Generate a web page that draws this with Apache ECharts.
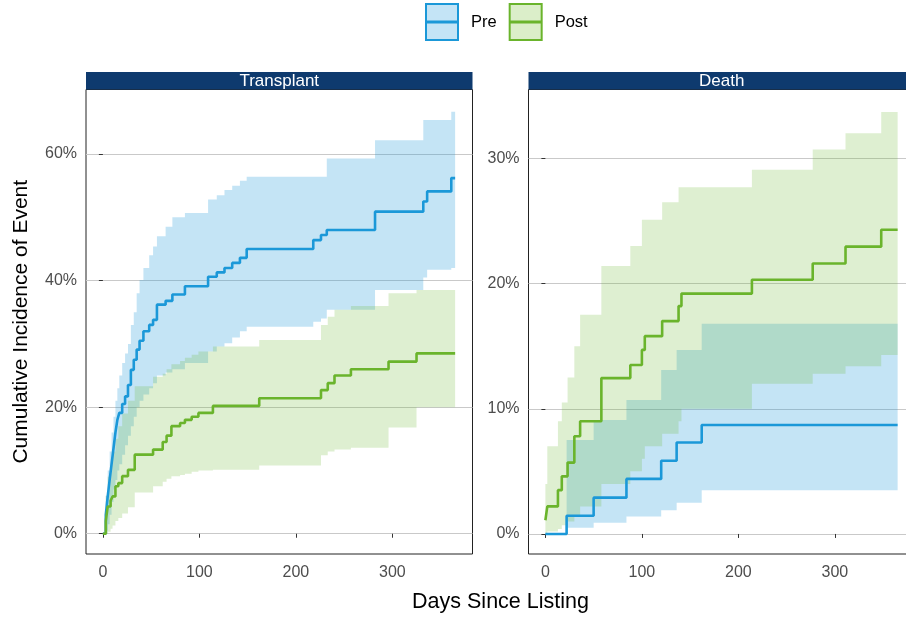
<!DOCTYPE html>
<html>
<head>
<meta charset="utf-8">
<title>Cumulative incidence of transplant and death</title>
<script src="https://cdn.jsdelivr.net/npm/echarts@6/dist/echarts.min.js"></script>
<style>
  html, body { margin: 0; padding: 0; background: #ffffff; }
  #chart { width: 906px; height: 617px; }
</style>
</head>
<body>
<div id="chart"></div>
<script>
// ---- data: step estimates with confidence bands (values in %) ----
const followUpEnd = 365;
const dayTicks = [0, 100, 200, 300];
const transplantTicks = [0, 20, 40, 60];
const deathTicks = [0, 10, 20, 30];
const panelNames = ['Transplant', 'Death'];
const groupNames = ['Pre', 'Post'];

// Transplant, Pre
const preTxDays = [0, 3, 5, 7, 9, 11, 13, 15, 17, 20, 23, 26, 29, 32, 35, 38, 42, 48, 52, 56, 65, 72, 85, 109, 118, 126, 134, 142, 149, 218, 226, 232, 282, 332, 336, 361];
const preTxEst  = [0, 3, 5.9, 8.5, 11, 13.5, 16, 18, 19.1, 20.5, 21.7, 23.5, 25.9, 27.5, 29.1, 30.5, 32, 33, 33.8, 36.2, 36.8, 37.8, 39.1, 40.6, 41.3, 42, 42.8, 43.6, 45, 46.4, 47.2, 48, 50.9, 52.5, 54.1, 56.2];
const preTxLo   = [0, 0.5, 1.5, 3, 5, 7, 8.5, 10, 11, 12.5, 14, 15.5, 17, 18.5, 20, 21, 22, 23, 23.8, 25, 25.5, 26, 27, 28.8, 29.6, 30.1, 31, 32, 32.7, 33.5, 34, 35.4, 38.5, 40.5, 41.7, 42];
const preTxHi   = [0, 6, 10, 13, 16, 18.5, 21, 23, 25, 27, 28.5, 30, 33, 35, 38, 40.1, 42, 44, 45.4, 47, 48.5, 50, 50.7, 52.8, 53.5, 54.3, 55, 55.8, 56.4, 56.4, 56.4, 59.3, 62.2, 65.4, 65.4, 66.7];

// Transplant, Post
const postTxDays = [0, 3, 5, 8, 10, 13, 16, 20, 26, 33, 52, 62, 66, 71, 80, 85, 92, 99, 114, 162, 226, 233, 240, 257, 296, 325];
const postTxEst  = [0, 2, 4.3, 5.2, 5.9, 7.5, 8, 9.1, 10.1, 12.5, 13.3, 14.5, 15.5, 17, 17.5, 18, 18.5, 19.1, 20.2, 21.4, 22.7, 23.8, 25, 26, 27.2, 28.5];
const postTxLo   = [0, 0, 0.3, 0.8, 1.3, 2, 2.5, 3.2, 4.2, 6.5, 7.5, 8.2, 8.7, 9.1, 9.3, 9.5, 9.8, 10, 10.1, 10.8, 12.4, 13, 13.3, 13.6, 16.8, 20];
const postTxHi   = [0, 6, 9, 11, 13, 15, 17, 19, 21, 23.3, 24.8, 25.3, 26, 26.8, 27.3, 27.8, 28.3, 28.8, 29.6, 30.6, 33, 34.3, 35.4, 36, 38, 38.5];

// Death, Pre
const preDeathDays = [0, 22, 50, 84, 120, 136, 162];
const preDeathEst  = [0, 1.46, 2.9, 4.4, 5.85, 7.3, 8.7];
const preDeathLo   = [0, 0.5, 0.9, 1.4, 1.9, 2.5, 3.5];
const preDeathHi   = [0, 7.5, 9.1, 10.7, 13.1, 14.7, 16.8];

// Death, Post
const postDeathDays = [0, 2, 13, 17, 23, 30, 36, 58, 88, 100, 103, 121, 138, 141, 214, 277, 311, 348];
const postDeathEst  = [1.1, 2.2, 3.5, 4.6, 5.7, 7.8, 9.0, 12.45, 13.5, 14.7, 15.8, 17.0, 18.2, 19.2, 20.3, 21.6, 22.95, 24.3];
const postDeathLo   = [0, 0.2, 0.4, 0.7, 1, 1.5, 2.2, 4, 5, 6, 7, 8, 9, 10, 12, 12.8, 13.4, 14.3];
const postDeathHi   = [4, 7, 9, 10.5, 12.5, 15, 17.5, 21.4, 23, 25.1, 25.1, 26.5, 27.7, 27.7, 29.1, 30.7, 32, 33.7];

// ---- styling ----
const FONT = '"Liberation Sans", Arial, Helvetica, sans-serif';
const lineColor = { Pre: '#1b98d8', Post: '#6ab42c' };
const bandFill  = { Pre: 'rgba(27,152,216,0.26)', Post: 'rgba(106,180,44,0.22)' };
const keyFill   = { Pre: '#c4e4f6', Post: '#dbeec9' };
const stripColor = '#0e3a6e';

// panel geometry (the right panel runs past the page edge)
const panelLeft = [86, 528.5];
const panelWidth = 386.5;
const panelTop = 89.5;
const panelHeight = 464.5;
const stripHeight = 17.5;
const yRange = [[-3.2, 70.2], [-1.6, 35.5]];
const xRange = [-17.5, 383];

function stepPoints(days, vals) {
  const pts = days.map((d, i) => [d, vals[i]]);
  pts.push([followUpEnd, vals[vals.length - 1]]);
  return pts;
}

// confidence band as a step polygon, mapped through the axis scales
function bandSeries(name, idx, days, lo, hi) {
  return {
    type: 'custom',
    name: name,
    coordinateSystem: 'cartesian2d',
    xAxisIndex: idx,
    yAxisIndex: idx,
    data: [[days[0], lo[0]]],
    silent: true,
    z: 1,
    itemStyle: { color: bandFill[name] },
    renderItem: function (params, api) {
      const up = [], dn = [];
      for (let i = 0; i < days.length; i++) {
        const t0 = days[i];
        const t1 = i + 1 < days.length ? days[i + 1] : followUpEnd;
        up.push(api.coord([t0, hi[i]]), api.coord([t1, hi[i]]));
        dn.push(api.coord([t0, lo[i]]), api.coord([t1, lo[i]]));
      }
      return {
        type: 'polygon',
        shape: { points: up.concat(dn.reverse()) },
        style: { fill: bandFill[name] }
      };
    }
  };
}

function lineSeries(name, idx, days, est) {
  return {
    type: 'line',
    name: name,
    xAxisIndex: idx,
    yAxisIndex: idx,
    data: stepPoints(days, est),
    step: 'end',
    symbol: 'none',
    showSymbol: false,
    silent: true,
    z: 3,
    lineStyle: { color: lineColor[name], width: 2.6 },
    itemStyle: { color: lineColor[name] }
  };
}

const tickLabelStyle = { color: '#4d4d4d', fontSize: 16, fontFamily: FONT };

function xAxis(idx) {
  return {
    type: 'value',
    gridIndex: idx,
    min: xRange[0],
    max: xRange[1],
    axisLine: { show: false },
    axisTick: { show: true, length: 4, customValues: dayTicks, lineStyle: { color: '#333' } },
    axisLabel: Object.assign({ customValues: dayTicks, margin: 11 }, tickLabelStyle),
    splitLine: { show: false }
  };
}

function yAxis(idx, ticks) {
  const ax = {
    type: 'value',
    gridIndex: idx,
    min: yRange[idx][0],
    max: yRange[idx][1],
    axisLine: { show: false },
    axisTick: { show: true, length: 4, customValues: ticks, lineStyle: { color: '#333' } },
    axisLabel: Object.assign({ customValues: ticks, margin: 9, formatter: '{value}%' }, tickLabelStyle),
    splitLine: { show: true, lineStyle: { color: '#c9c9c9', width: 1 } }
  };
  if (idx === 0) {
    ax.name = 'Cumulative Incidence of Event';
    ax.nameLocation = 'middle';
    ax.nameRotate = 90;
    ax.nameGap = 54;
    ax.nameTextStyle = { color: '#000', fontSize: 21, fontFamily: FONT };
  }
  return ax;
}

const KEY_ICON = 'path://M0,0H32V36H0Z M0,17.5H32V18.5H0Z';

const decorations = [];
panelNames.forEach((label, i) => {
  decorations.push({
    type: 'rect',
    x: panelLeft[i],
    y: panelTop - stripHeight,
    shape: { width: panelWidth, height: stripHeight },
    style: { fill: stripColor },
    silent: true
  });
  decorations.push({
    type: 'text',
    x: panelLeft[i] + panelWidth / 2,
    y: panelTop - stripHeight / 2 + 0.5,
    style: { text: label, fill: '#ffffff', font: '17px ' + FONT, align: 'center', verticalAlign: 'middle' },
    silent: true
  });
});
decorations.push({
  type: 'text',
  x: panelLeft[0] + (panelLeft[1] + panelWidth - panelLeft[0]) / 2,
  y: 602,
  style: { text: 'Days Since Listing', fill: '#000', font: '21.5px ' + FONT, align: 'center', verticalAlign: 'middle' },
  silent: true
});

const option = {
  animation: false,
  backgroundColor: '#ffffff',
  legend: {
    top: 3,
    left: 425,
    padding: 0,
    itemWidth: 32,
    itemHeight: 36,
    itemGap: 12,
    selectedMode: false,
    textStyle: { color: '#000', fontSize: 16.5, fontFamily: FONT, padding: [0, 0, 0, 8] },
    data: groupNames.map(g => ({
      name: g,
      icon: KEY_ICON,
      itemStyle: { color: keyFill[g], borderColor: lineColor[g], borderWidth: 2 }
    }))
  },
  grid: panelLeft.map(l => ({
    left: l, top: panelTop, width: panelWidth, height: panelHeight,
    show: true, borderColor: '#222', borderWidth: 1, backgroundColor: 'transparent',
    containLabel: false,
    outerBoundsMode: 'none'
  })),
  xAxis: [xAxis(0), xAxis(1)],
  yAxis: [yAxis(0, transplantTicks), yAxis(1, deathTicks)],
  graphic: decorations,
  series: [
    bandSeries('Pre', 0, preTxDays, preTxLo, preTxHi),
    bandSeries('Post', 0, postTxDays, postTxLo, postTxHi),
    bandSeries('Pre', 1, preDeathDays, preDeathLo, preDeathHi),
    bandSeries('Post', 1, postDeathDays, postDeathLo, postDeathHi),
    lineSeries('Pre', 0, preTxDays, preTxEst),
    lineSeries('Post', 0, postTxDays, postTxEst),
    lineSeries('Pre', 1, preDeathDays, preDeathEst),
    lineSeries('Post', 1, postDeathDays, postDeathEst)
  ]
};

const chart = echarts.init(document.getElementById('chart'), null, { renderer: 'canvas' });
chart.setOption(option);
</script>
</body>
</html>
